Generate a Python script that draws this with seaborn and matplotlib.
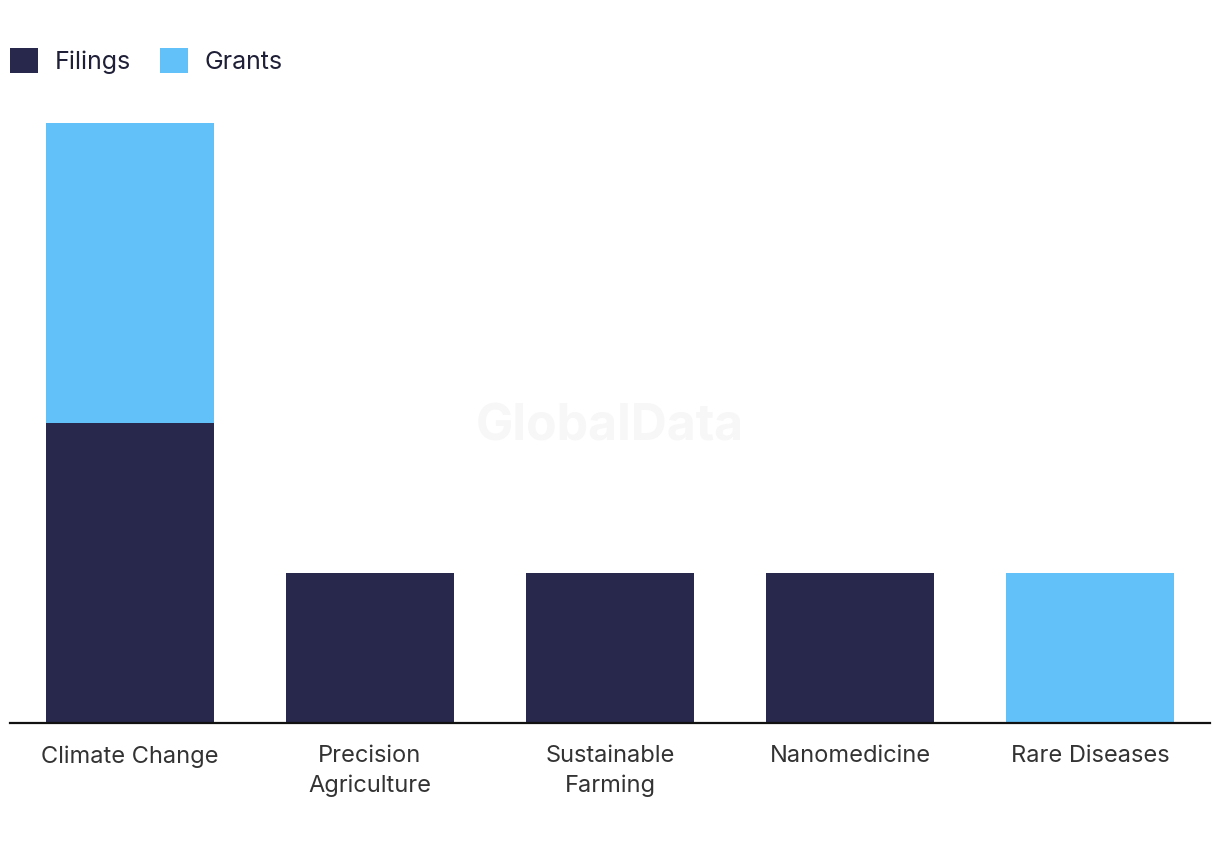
import matplotlib.pyplot as plt
import seaborn as sns
import pandas as pd
from matplotlib.patches import Patch

# Chart data
categories = ['Climate Change', 'Precision\nAgriculture', 'Sustainable\nFarming', 'Nanomedicine', 'Rare Diseases']
filings = [2, 1, 1, 1, 0]
grants = [2, 0, 0, 0, 1]

NAVY = '#27284b'
BLUE = '#62c1f8'

sns.set_style('white')
plt.rcParams['font.family'] = ['Inter', 'DejaVu Sans']

df = pd.DataFrame({'Category': categories, 'Filings': filings, 'Grants': grants})
df['Total'] = df['Filings'] + df['Grants']

fig = plt.figure(figsize=(12.2, 8.5), dpi=100)
ax = fig.add_axes([10 / 1220, 127 / 850, 1200 / 1220, 623 / 850])

# Stacked bars: total first (grants colour), filings drawn on top
sns.barplot(data=df, x='Category', y='Total', color=BLUE, width=0.7,
            saturation=1, ax=ax, order=categories)
sns.barplot(data=df, x='Category', y='Filings', color=NAVY, width=0.7,
            saturation=1, ax=ax, order=categories)

for bar in ax.patches:
    bar.set_edgecolor('none')

ax.set_xlim(-0.5, 4.5)
ax.set_ylim(0, 623 / 150)
ax.set_xlabel('')
ax.set_ylabel('')
ax.set_yticks([])

for side in ['top', 'right', 'left']:
    ax.spines[side].set_visible(False)
ax.spines['bottom'].set_color('#111111')
ax.spines['bottom'].set_linewidth(1.6)

ax.tick_params(axis='x', length=0, pad=16, labelsize=17, labelcolor='#333333')
for label in ax.get_xticklabels():
    label.set_linespacing(1.42)

# Watermark
fig.text(0.5, 1 - 427 / 850, 'GlobalData', ha='center', va='center',
         fontsize=36, fontweight='bold', color='#f7f7f7', zorder=0)

# Legend
handles = [Patch(facecolor=NAVY, edgecolor='none', label='Filings'),
           Patch(facecolor=BLUE, edgecolor='none', label='Grants')]
fig.legend(handles=handles, loc='upper left', bbox_to_anchor=(-3 / 1220, 1 - 36 / 850),
           ncol=2, frameon=False, fontsize=18, handlelength=1.12, handleheight=1.12,
           handletextpad=0.68, columnspacing=1.15, borderaxespad=0.3,
           borderpad=0.2, labelcolor='#1f2037')

fig.savefig('out.png', dpi=100)
